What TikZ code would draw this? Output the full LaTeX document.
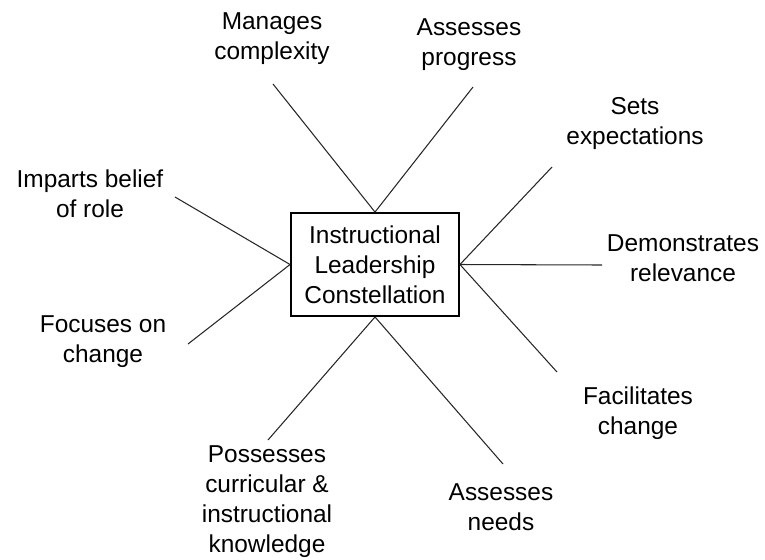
\documentclass[tikz,border=0pt]{standalone}
\usepackage{fontspec}
\setmainfont{Liberation Sans}
\usetikzlibrary{positioning}

\begin{document}
\begin{tikzpicture}[
        x=0.02cm, y=-0.02cm,
        line width=0.6pt,
        font=\fontsize{13.9}{17}\selectfont,
        main node/.style={draw, line width=1.1pt, minimum width=3.36cm,
                minimum height=2.06cm, align=center, inner sep=0pt},
        leaf node/.style={align=center, inner sep=0pt},
        spoke/.style={draw=black!85},
    ]
    \useasboundingbox (0, 0) rectangle (765, 559);

    \node[main node] (M) at (375, 264.5) {Instructional\\Leadership\\Constellation};

    % Each label with the free end of its spoke and the side of M it leaves from
    \foreach \name/\pos/\tip/\side/\txt in {
            mc/{272,39}/{273,84}/north/{Manages\\complexity},
            ap/{469,45}/{473,87}/north/{Assesses\\progress},
            se/{635,123.5}/{552,167}/east/{Sets\\expectations},
            dr/{683,258.5}/{602,265}/east/{Demonstrates\\relevance},
            fc/{638,413}/{557,372}/east/{Facilitates\\change},
            an/{501,507}/{503,464}/south/{Assesses\\needs},
            pk/{267,501.5}/{268,440}/south/{Possesses\\curricular \&\\instructional\\knowledge},
            fo/{103,342}/{188,344}/west/{Focuses on\\change},
            ib/{90,194}/{175,197}/west/{Imparts belief\\of role}%
        } {
            \node[leaf node] (\name) at (\pos) {\txt};
            \coordinate (\name-end) at (\tip);
            \draw[spoke] (M.\side) -- (\name-end);
        }
\end{tikzpicture}
\end{document}
